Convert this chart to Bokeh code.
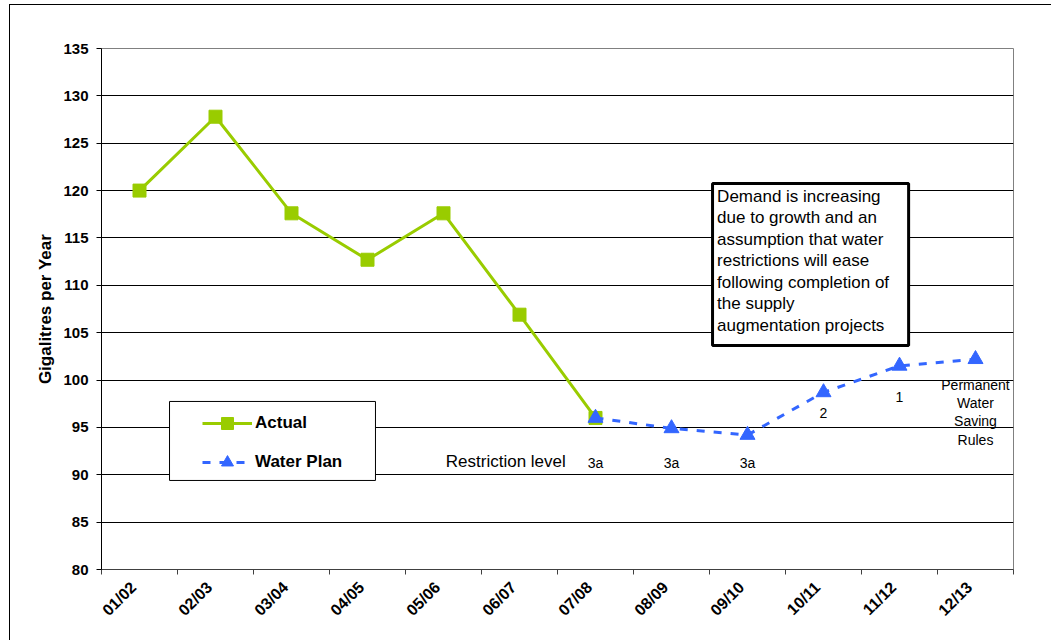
import math

from bokeh.core.properties import value
from bokeh.embed import file_html
from bokeh.models import (BoxAnnotation, ColumnDataSource, FixedTicker, Label,
                          Legend, LegendItem, Range1d)
from bokeh.plotting import figure
from bokeh.resources import INLINE

# Financial years on the category axis
years = ["01/02", "02/03", "03/04", "04/05", "05/06", "06/07",
         "07/08", "08/09", "09/10", "10/11", "11/12", "12/13"]

# Demand, gigalitres per year
actual_years = ["01/02", "02/03", "03/04", "04/05", "05/06", "06/07", "07/08"]
actual_values = [120.0, 127.8, 117.6, 112.7, 117.6, 106.9, 96.0]

plan_years = ["07/08", "08/09", "09/10", "10/11", "11/12", "12/13"]
plan_values = [96.0, 94.9, 94.2, 98.7, 101.5, 102.2]

# Restriction level expected in each plan year
restriction_years = ["07/08", "08/09", "09/10", "10/11", "11/12", "12/13"]
restriction_levels = ["3a", "3a", "3a", "2", "1",
                      "Permanent\nWater\nSaving\nRules"]

y_ticks = [80, 85, 90, 95, 100, 105, 110, 115, 120, 125, 130, 135]

note_lines = ["Demand is increasing",
              "due to growth and an",
              "assumption that water",
              "restrictions will ease",
              "following completion of",
              "the supply",
              "augmentation projects"]

FONT = "Liberation Sans"
GREEN = "#99CC00"
BLUE = "#3366FF"

# category -> centre of its slot on a 0..12 numeric axis
slot = {y: i + 0.5 for i, y in enumerate(years)}
# rotated year labels sit slightly left of their slot centre
label_pos = {y: i + 0.42 for i, y in enumerate(years)}

p = figure(width=1042, height=636,
           x_range=Range1d(0, len(years)), y_range=Range1d(80, 135),
           output_backend="svg", toolbar_location=None,
           min_border_left=91, min_border_right=39,
           min_border_top=43, min_border_bottom=72)
p.margin = (4, 0, 0, 9)
p.styles = {"border-left": "1px solid black", "border-top": "1px solid black"}
p.outline_line_color = "#808080"
p.outline_line_width = 1

# horizontal gridlines
p.xgrid.visible = False
p.ygrid.ticker = FixedTicker(ticks=y_ticks)
p.ygrid.grid_line_color = "black"
p.ygrid.grid_line_width = 1

# y axis
p.yaxis.ticker = FixedTicker(ticks=y_ticks)
p.yaxis.axis_label = "Gigalitres per Year"
p.yaxis.axis_label_text_font = FONT
p.yaxis.axis_label_text_font_size = "17px"
p.yaxis.axis_label_text_font_style = "bold"
p.yaxis.axis_label_text_color = "black"
p.yaxis.axis_label_standoff = 5
p.yaxis.major_label_text_font = FONT
p.yaxis.major_label_text_font_size = "15px"
p.yaxis.major_label_text_font_style = "bold"
p.yaxis.major_label_text_color = "black"
p.yaxis.major_label_standoff = 8
p.yaxis.major_tick_out = 5
p.yaxis.major_tick_in = 0
p.yaxis.minor_tick_line_color = None
p.yaxis.axis_line_color = "black"
p.yaxis.major_tick_line_color = "black"

# x axis: labels near slot centres, tick marks on slot boundaries
p.xaxis.ticker = FixedTicker(ticks=[label_pos[y] for y in years],
                             minor_ticks=list(range(len(years) + 1)))
p.xaxis.major_label_overrides = {label_pos[y]: y for y in years}
p.xaxis.major_label_orientation = math.pi / 4
p.xaxis.major_label_text_font = FONT
p.xaxis.major_label_text_font_size = "16px"
p.xaxis.major_label_text_font_style = "bold"
p.xaxis.major_label_text_color = "black"
p.xaxis.major_label_standoff = 10
p.xaxis.major_tick_out = 0
p.xaxis.major_tick_in = 0
p.xaxis.minor_tick_out = 5
p.xaxis.minor_tick_in = 0
p.xaxis.minor_tick_line_color = "#404040"
p.xaxis.axis_line_color = "#404040"

# data series
actual_src = ColumnDataSource(dict(x=[slot[y] for y in actual_years], y=actual_values))
plan_src = ColumnDataSource(dict(x=[slot[y] for y in plan_years], y=plan_values))

actual_line = p.line("x", "y", source=actual_src, line_color=GREEN, line_width=3)
actual_pts = p.scatter("x", "y", source=actual_src, marker="square", size=13,
                       fill_color=GREEN, line_color=GREEN)
plan_line = p.line("x", "y", source=plan_src, line_color=BLUE, line_width=3,
                   line_dash="8 9")
plan_pts = p.scatter("x", "y", source=plan_src, marker="triangle", size=15,
                     fill_color=BLUE, line_color=BLUE)

# restriction level labels under the plan series
label_y = [91.2, 91.2, 91.2, 96.5, 98.2, 96.6]
restr_src = ColumnDataSource(dict(x=[slot[y] for y in restriction_years],
                                  y=label_y, text=restriction_levels))
p.text("x", "y", text="text", source=restr_src, text_font=value(FONT),
       text_font_size="14px", text_align="center", text_baseline="middle",
       text_color="black", text_line_height=1.15)

p.add_layout(Label(x=4.53, y=91.4, text="Restriction level", text_font=FONT,
                   text_font_size="17px", text_baseline="middle",
                   text_align="left", text_color="black"))

# explanatory note
p.add_layout(BoxAnnotation(left=8.04, right=10.62, top=120.75, bottom=103.65,
                           fill_color="white", fill_alpha=1,
                           line_color="black", line_alpha=1, line_width=3))
p.add_layout(Label(x=8.1, y=120.4, text="\n".join(note_lines), text_font=FONT,
                   text_font_size="17px", text_baseline="top", text_align="left",
                   text_color="black", text_line_height=1.13))

# legend
p.add_layout(BoxAnnotation(left=0.895, right=3.605, top=97.74, bottom=89.4,
                           fill_color="white", fill_alpha=1,
                           line_color="black", line_alpha=1, line_width=1))
legend = Legend(items=[LegendItem(label="Actual", renderers=[actual_line, actual_pts]),
                       LegendItem(label="Water Plan", renderers=[plan_line, plan_pts])],
                location=(101, 92), orientation="vertical",
                padding=0, margin=0, spacing=9,
                glyph_width=50, glyph_height=30, label_height=30,
                label_standoff=3,
                label_text_font=FONT, label_text_font_size="17px",
                label_text_font_style="bold", label_text_color="black",
                border_line_color=None, background_fill_alpha=0)
p.add_layout(legend)

open("out.html", "w").write(file_html(p, INLINE))
